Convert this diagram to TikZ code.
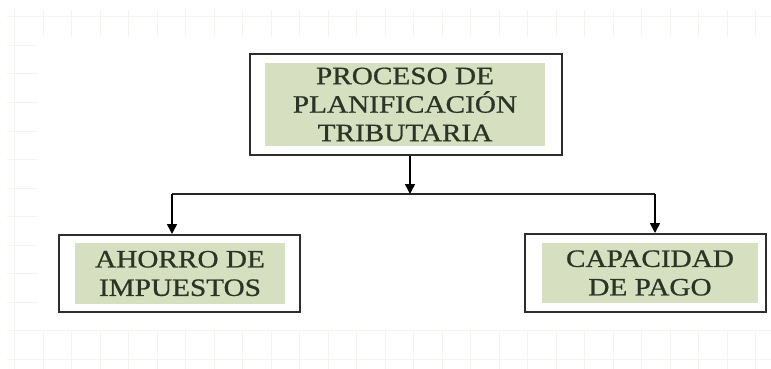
\documentclass[tikz,border=0pt]{standalone}
\usepackage{fontspec}
\setmainfont{Liberation Serif}
\newfontfamily\boxfont[FakeStretch=1.17,FakeBold=0.8]{Liberation Serif}
\usetikzlibrary{arrows.meta}
\definecolor{boxgreen}{RGB}{214,224,192}
\definecolor{txtcol}{RGB}{44,52,38}
\definecolor{framecol}{RGB}{45,45,45}
\definecolor{gridcol}{RGB}{242,244,237}
\tikzset{
  outerbox/.style={draw=framecol, line width=2pt, fill=white, inner sep=0pt},
  innerfill/.style={fill=boxgreen, inner sep=0pt, align=center, text=txtcol,
    font=\boxfont\fontsize{25}{28.5}\selectfont},
  arr/.style={draw=black, line width=1.6pt, -{Triangle[width=10pt,length=10pt]}},
  conn/.style={draw=black!85, line width=1.6pt},
  gridline/.style={draw=gridcol, line width=1pt}
}
\begin{document}
\begin{tikzpicture}[x=1pt,y=-1pt]
\useasboundingbox (0,0) rectangle (771,369);
\fill[white] (0,0) rectangle (771,369);
% faint background grid in the margins
\begin{scope}
  \clip (7,10) rectangle (771,36) (7,10) rectangle (37,369) (7,330) rectangle (771,369);
  \foreach \gx in {14.5,43,...,771} \draw[gridline] (\gx,0) -- (\gx,369);
  \foreach \gy in {17,45.5,...,369} \draw[gridline] (0,\gy) -- (771,\gy);
\end{scope}
% boxes
\node[outerbox, minimum width=312pt, minimum height=101pt] (top) at (406,104.5) {};
\node[innerfill, minimum width=280pt, minimum height=83pt] (toptxt) at (405,104.5)
  {PROCESO DE\\PLANIFICACIÓN\\TRIBUTARIA};
\node[outerbox, minimum width=241pt, minimum height=77pt] (left) at (179.5,273.5) {};
\node[innerfill, minimum width=210pt, minimum height=61pt] (lefttxt) at (180,273.5)
  {AHORRO DE\\IMPUESTOS};
\node[outerbox, minimum width=241pt, minimum height=78pt] (right) at (645.5,273) {};
\node[innerfill, minimum width=216pt, minimum height=60pt] (righttxt) at (650,273)
  {CAPACIDAD\\DE PAGO};
% connectors
\coordinate (j) at (410,194);
\coordinate (jl) at (172,194);
\coordinate (jr) at (655,194);
\draw[conn] (jl) -- (jr);
\draw[arr] (j |- top.south) -- (j);
\draw[arr] (jl) -- (jl |- left.north);
\draw[arr] (jr) -- (jr |- right.north);
\end{tikzpicture}
\end{document}
